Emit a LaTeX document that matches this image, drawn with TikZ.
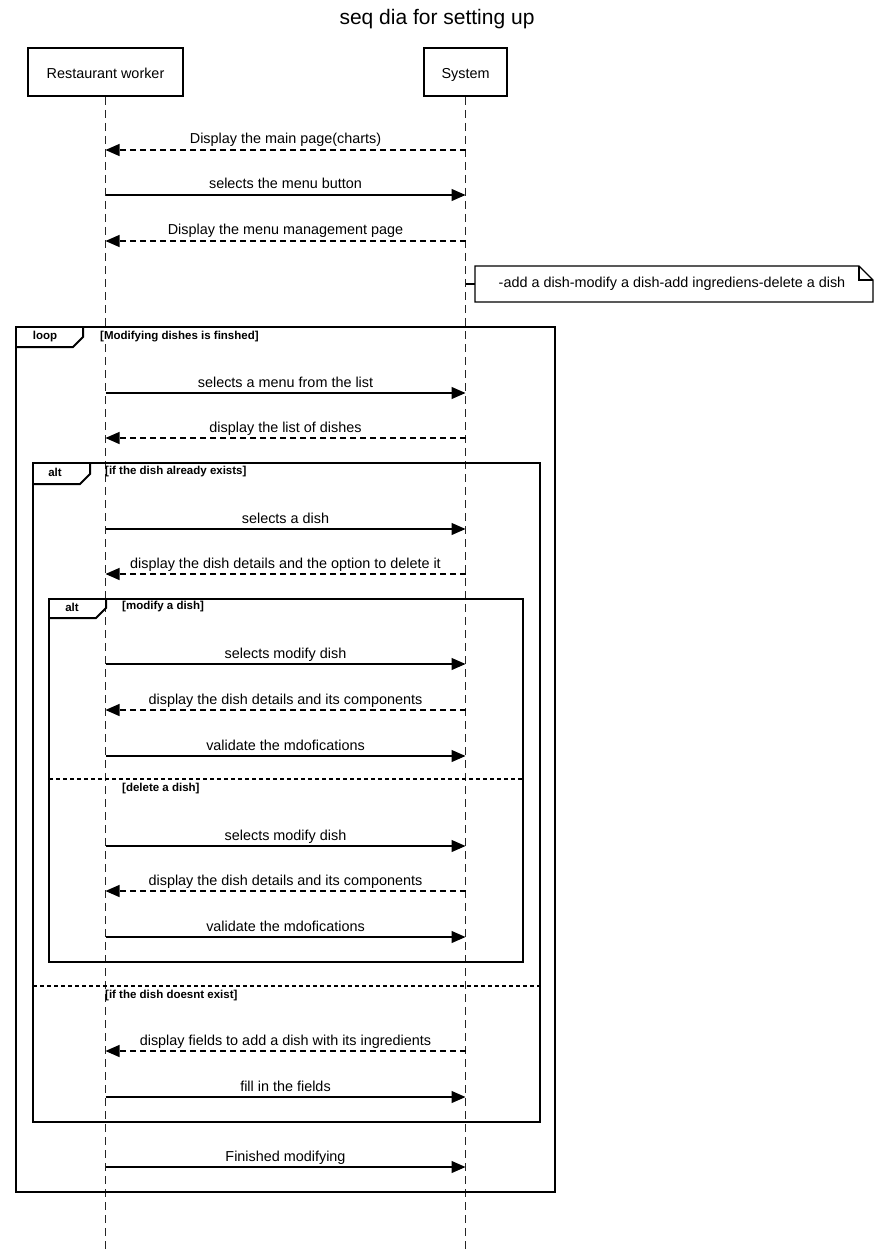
\documentclass[tikz,border=0pt]{standalone}
\usepackage{fontspec}
\setmainfont{Liberation Sans}
\usetikzlibrary{arrows.meta}
\begin{document}
\begin{tikzpicture}[x=1pt,y=-1pt,
  txt/.style={font=\fontsize{14.4}{17}\selectfont},
  actor/.style={draw, line width=2pt, minimum height=48pt, inner sep=0pt, txt},
  life/.style={line width=1.2pt, dash pattern=on 8pt off 5pt, black!85},
  call/.style={line width=1.2pt, -{Triangle[length=14pt,width=12pt]}},
  reply/.style={call, dash pattern=on 6pt off 4pt},
  lbl/.style={anchor=base, yshift=6pt, inner sep=0pt, txt},
  frame/.style={line width=2pt},
  sep/.style={line width=2pt, dash pattern=on 4pt off 3pt},
  tag/.style={inner sep=0pt, font=\fontsize{11.5}{13}\selectfont\bfseries},
  cond/.style={tag, anchor=west},
]
\useasboundingbox (0,0) rectangle (880,1249);

% title
\node[font=\fontsize{21}{25}\selectfont] (title) at (437,19) {seq dia for setting up};

% participants and lifelines
\node[actor, minimum width=155pt] (worker) at (105.5,72) {\raisebox{-6.5pt}[0pt][0pt]{Restaurant worker}};
\node[actor, minimum width=83pt] (sys) at (465.5,72) {\raisebox{-6.5pt}[0pt][0pt]{System}};
\coordinate (bottom) at (0,1249);
\draw[life] (worker.south) -- (worker.south |- bottom);
\draw[life] (sys.south) -- (sys.south |- bottom);

% message anchor points on both lifelines
\foreach \i/\y in {1/150,2/195,3/241,4/393,5/438,6/529,7/574,8/664,9/710,10/756,
                   11/846,12/891,13/937,14/1051,15/1097,16/1167,n/284}{
  \coordinate (w\i) at (105.5,\y);
  \coordinate (s\i) at (465.5,\y);
}

% opening messages
\draw[reply] (s1) -- node[lbl]{Display the main page(charts)} (w1);
\draw[call]  (w2) -- node[lbl]{selects the menu button} (s2);
\draw[reply] (s3) -- node[lbl]{Display the menu management page} (w3);

% note
\node[minimum width=398pt, minimum height=36pt, inner sep=0pt, txt] (note) at (672,284)
  {-add a dish-modify a dish-add ingrediens-delete a dish};
\draw[line width=1.2pt] (475,266) -- (859,266) -- (873,280) -- (873,302) -- (475,302) -- cycle;
\draw[line width=1.2pt] (859,266) -- (859,280) -- (873,280);
\draw[line width=1.2pt] (sn) -- (475,284);

% loop frame
\draw[frame] (16,327) rectangle (555,1192);
\draw[frame] (16,347) -- (73,347) -- (83,337) -- (83,327);
\node[tag] (looptag) at (45,337) {loop};
\node[cond] (loopcond) at (100,337) {[Modifying dishes is finshed]};

\draw[call]  (w4) -- node[lbl]{selects a menu from the list} (s4);
\draw[reply] (s5) -- node[lbl]{display the list of dishes} (w5);

% outer alt frame
\draw[frame] (33,463) rectangle (540,1122);
\draw[frame] (33,484) -- (80,484) -- (90,474) -- (90,463);
\node[tag] (alttag1) at (55,472) {alt};
\node[cond] (altcond1) at (105,472) {[if the dish already exists]};

\draw[call]  (w6) -- node[lbl]{selects a dish} (s6);
\draw[reply] (s7) -- node[lbl]{display the dish details and the option to delete it} (w7);

% inner alt frame
\draw[frame] (49,599) rectangle (523,962);
\draw[frame] (49,618) -- (96,618) -- (106,608) -- (106,599);
\node[tag] (alttag2) at (72,607) {alt};
\node[cond] (altcond2) at (122,607) {[modify a dish]};

\draw[call]  (w8) -- node[lbl]{selects modify dish} (s8);
\draw[reply] (s9) -- node[lbl]{display the dish details and its components} (w9);
\draw[call]  (w10) -- node[lbl]{validate the mdofications} (s10);

\draw[sep] (49,779) -- (523,779);
\node[cond] (altcond3) at (122,789) {[delete a dish]};

\draw[call]  (w11) -- node[lbl]{selects modify dish} (s11);
\draw[reply] (s12) -- node[lbl]{display the dish details and its components} (w12);
\draw[call]  (w13) -- node[lbl]{validate the mdofications} (s13);

\draw[sep] (33,986) -- (540,986);
\node[cond] (altcond4) at (105,996) {[if the dish doesnt exist]};

\draw[reply] (s14) -- node[lbl]{display fields to add a dish with its ingredients} (w14);
\draw[call]  (w15) -- node[lbl]{fill in the fields} (s15);

\draw[call]  (w16) -- node[lbl]{Finished modifying} (s16);
\end{tikzpicture}
\end{document}
